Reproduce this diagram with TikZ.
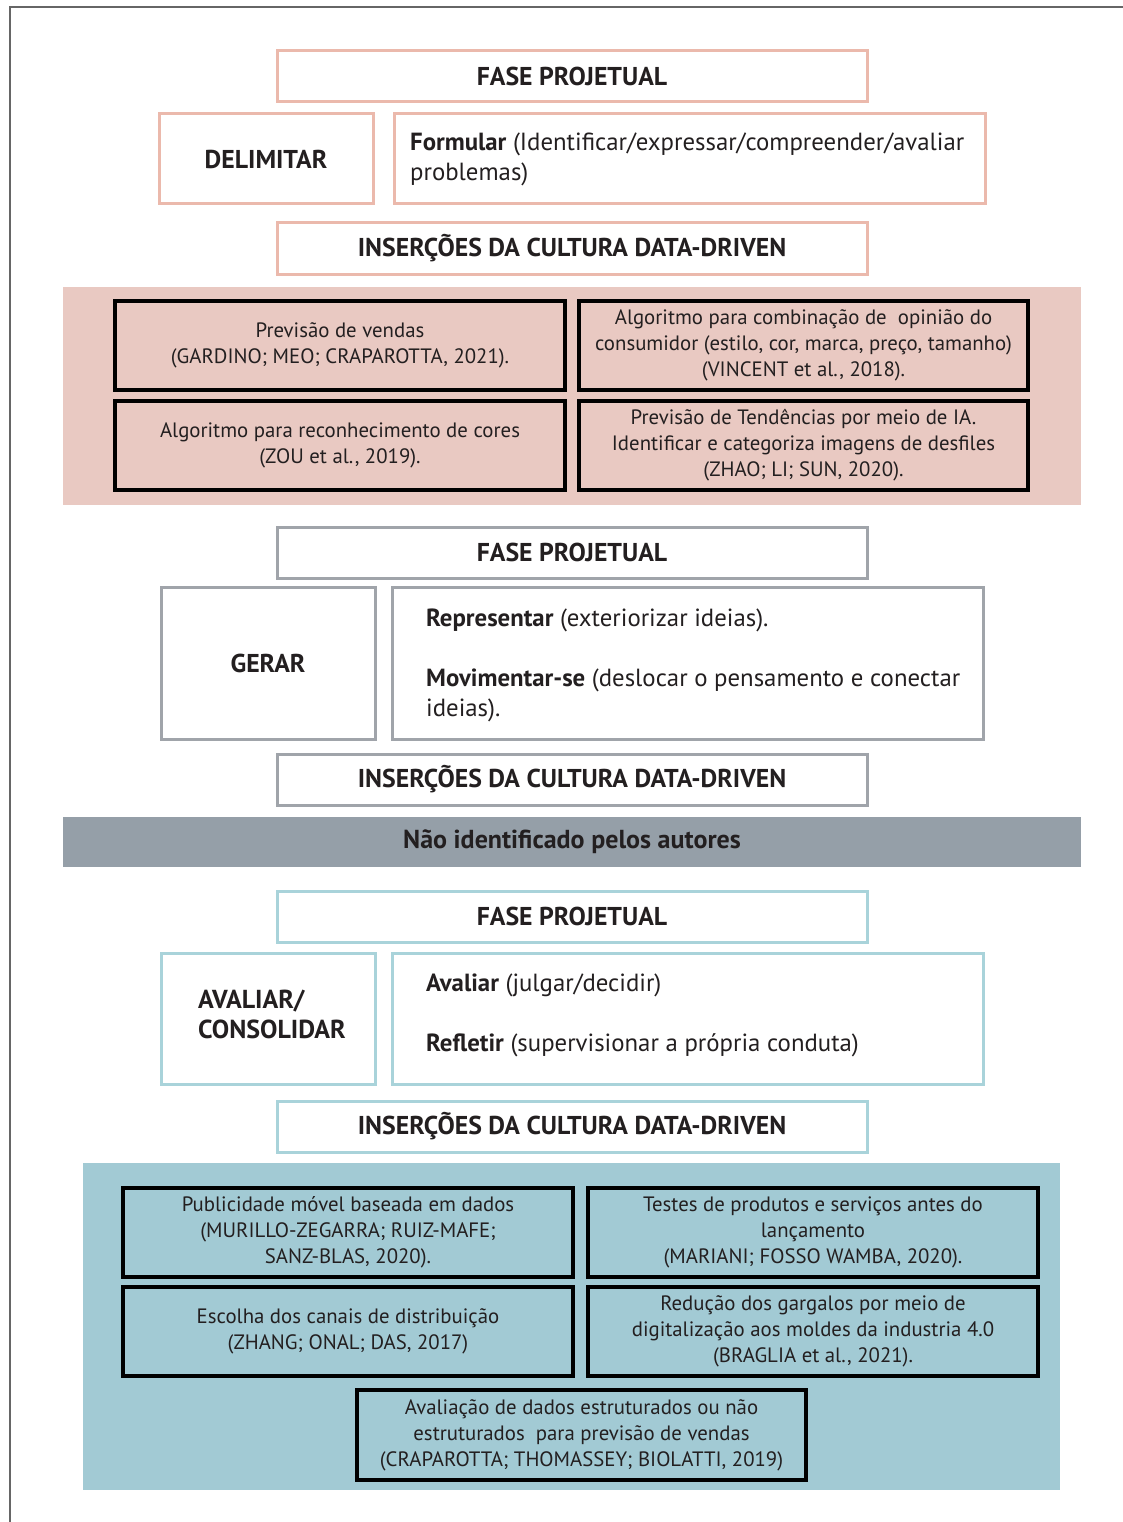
\documentclass[tikz,border=0pt]{standalone}
\usepackage{fontspec}
\setmainfont{PT Sans}
\definecolor{pinkb}{HTML}{EBB9AC}
\definecolor{pinkf}{HTML}{E9C9C2}
\definecolor{grayb}{HTML}{A0A4AA}
\definecolor{grayf}{HTML}{959FA8}
\definecolor{blueb}{HTML}{A9D3DA}
\definecolor{bluef}{HTML}{A2CAD4}
\definecolor{txt}{HTML}{231F20}
\begin{document}
\begin{tikzpicture}[x=1pt,y=-1pt,
  every node/.style={inner sep=0pt, text=txt},
  frame/.style={line width=3pt, minimum width=#1},
  hdr/.style={frame=590pt, minimum height=51pt, font=\fontsize{25.8}{30}\selectfont\bfseries},
  side/.style={frame=214pt, font=\fontsize{25.8}{30}\selectfont\bfseries},
  wide/.style={frame=591pt},
  ref/.style={draw=black, line width=3.5pt, minimum height=89pt, align=center,
     font=\fontsize{20.8}{26}\selectfont},
  line/.style={anchor=base west, font=\fontsize{24.8}{30}\selectfont},
  bline/.style={anchor=base west, font=\fontsize{26}{30}\selectfont\bfseries},
]
\useasboundingbox (0,0) rectangle (1123,1522);
\fill[white] (0,0) rectangle (1123,1522);
\draw[gray!80!black, line width=2pt] (10,1522) -- (10,7) -- (1123,7);

% ---------- Section 1 ----------
\node[hdr, draw=pinkb] (f1) at (572,76.5) {FASE PROJETUAL};
\node[side, draw=pinkb, minimum height=90pt] (d1) at (266,159) {DELIMITAR};
\node[wide, draw=pinkb, line width=3pt, minimum height=90pt] (r1) at (690,159) {};
\node[line] (r1a) at (410,151) {\textbf{Formular} (Identificar/expressar/compreender/avaliar};
\node[line] (r1b) at (410,181) {problemas)};
\node[hdr, draw=pinkb] (i1) at (572,248.5) {INSERÇÕES DA CULTURA DATA-DRIVEN};
\fill[pinkf] (63,287) rectangle (1081,505);
\node[ref, minimum width=450pt] (p1) at (340,345.5) {Previsão de vendas\\(GARDINO; MEO; CRAPAROTTA, 2021).};
\node[ref, minimum width=449pt] (p2) at (803.5,345.5) {Algoritmo para combinação de\ \ opinião do\\consumidor (estilo, cor, marca, preço, tamanho)\\(VINCENT et al., 2018).};
\node[ref, minimum width=450pt] (p3) at (340,445.5) {Algoritmo para reconhecimento de cores\\(ZOU et al., 2019).};
\node[ref, minimum width=449pt] (p4) at (803.5,445.5) {Previsão de Tendências por meio de IA.\\Identificar e categoriza imagens de desfiles\\(ZHAO; LI; SUN, 2020).};

% ---------- Section 2 ----------
\node[hdr, draw=grayb] (f2) at (572,552.5) {FASE PROJETUAL};
\node[side, draw=grayb, minimum height=152pt] (d2) at (268,663) {GERAR};
\node[wide, draw=grayb, line width=3pt, minimum height=152pt] (r2) at (687.5,663) {};
\node[line] (r2a) at (426,626) {\textbf{Representar} (exteriorizar ideias).};
\node[line] (r2b) at (426,686) {\textbf{Movimentar-se} (deslocar o pensamento e conectar};
\node[line] (r2c) at (426,716) {ideias).};
\node[hdr, draw=grayb] (i2) at (572,779.5) {INSERÇÕES DA CULTURA DATA-DRIVEN};
\node[fill=grayf, minimum width=1018pt, minimum height=50pt, font=\fontsize{26}{30}\selectfont\bfseries] (ni) at (572,842) {Não identificado pelos autores};

% ---------- Section 3 ----------
\node[hdr, draw=blueb] (f3) at (572,916.5) {FASE PROJETUAL};
\node[frame=214pt, draw=blueb, minimum height=131pt] (d3) at (268,1018.5) {};
\node[bline] (d3a) at (198,1008) {AVALIAR/};
\node[bline] (d3b) at (198,1038) {CONSOLIDAR};
\node[wide, draw=blueb, line width=3pt, minimum height=131pt] (r3) at (687.5,1018.5) {};
\node[line] (r3a) at (426,991) {\textbf{Avaliar} (julgar/decidir)};
\node[line] (r3b) at (426,1051) {\textbf{Refletir} (supervisionar a própria conduta)};
\node[hdr, draw=blueb] (i3) at (572,1126.5) {INSERÇÕES DA CULTURA DATA-DRIVEN};
\fill[bluef] (83,1163) rectangle (1060,1490);
\node[ref, minimum width=450pt] (b1) at (348,1232.5) {Publicidade móvel baseada em dados\\(MURILLO-ZEGARRA; RUIZ-MAFE;\\SANZ-BLAS, 2020).};
\node[ref, minimum width=450pt] (b2) at (813,1232.5) {Testes de produtos e serviços antes do\\lançamento\\(MARIANI; FOSSO WAMBA, 2020).};
\node[ref, minimum width=450pt] (b3) at (348,1331.5) {Escolha dos canais de distribuição\\(ZHANG; ONAL; DAS, 2017)};
\node[ref, minimum width=450pt] (b4) at (813,1331.5) {Redução dos gargalos por meio de\\digitalização aos moldes da industria 4.0\\(BRAGLIA et al., 2021).};
\node[ref, minimum width=449pt, minimum height=90pt] (b5) at (581.5,1435) {Avaliação de dados estruturados ou não\\estruturados\ \ para previsão de vendas\\(CRAPAROTTA; THOMASSEY; BIOLATTI, 2019)};
\end{tikzpicture}
\end{document}
